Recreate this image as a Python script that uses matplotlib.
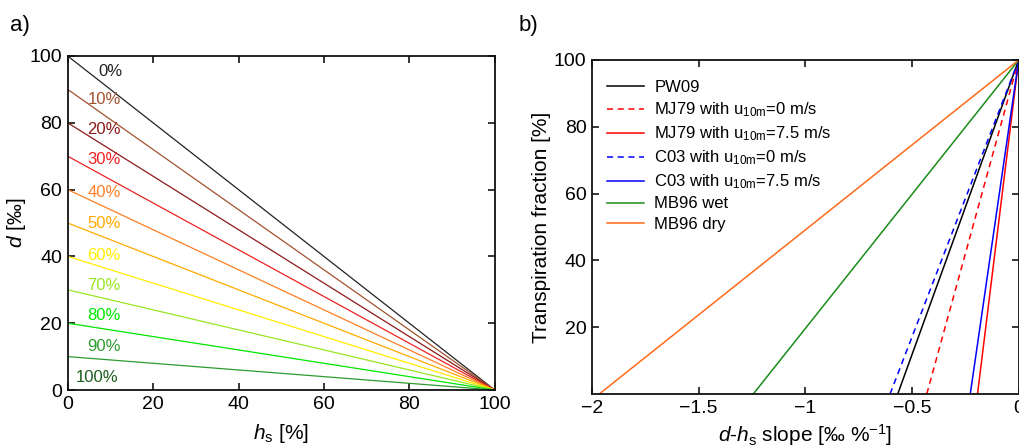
import matplotlib
matplotlib.use("Agg")
import matplotlib.pyplot as plt
import numpy as np

plt.rcParams['font.family'] = ['Liberation Sans', 'DejaVu Sans']
plt.rcParams['mathtext.fontset'] = 'custom'
plt.rcParams['mathtext.rm'] = 'Liberation Sans'
plt.rcParams['mathtext.it'] = 'Liberation Sans:italic'
plt.rcParams['mathtext.bf'] = 'Liberation Sans:bold'

# ---- Panel a data ----
hs = [0, 100]
transp_labels = ['0%', '10%', '20%', '30%', '40%', '50%', '60%', '70%', '80%', '90%', '100%']
d_intercepts = [100, 90, 80, 70, 60, 50, 40, 30, 20, 10, 0]
a_colors = ['#222222', '#a0522d', '#8b1a1a', '#ee2222', '#ff7f24', '#ffaa00',
            '#ffee00', '#99e622', '#00e600', '#2e9b2e', '#1a5c1a']

# ---- Panel b data ----
b_names = ['PW09', 'MJ79 with u$_{10\\mathrm{m}}$=0 m/s', 'MJ79 with u$_{10\\mathrm{m}}$=7.5 m/s',
           'C03 with u$_{10\\mathrm{m}}$=0 m/s', 'C03 with u$_{10\\mathrm{m}}$=7.5 m/s',
           'MB96 wet', 'MB96 dry']
b_slope_at_zero = [-0.567, -0.431, -0.193, -0.603, -0.227, -1.244, -1.966]
b_slope_at_full = [0, 0, 0, 0, 0, 0, 0]
b_fraction = [0, 100]
b_colors = ['black', '#ff0000', '#ff0000', '#0000ff', '#0000ff', '#1a8c1a', '#ff6a1a']
b_styles = ['-', '--', '-', '--', '-', '-', '-']

W, H = 1019, 448
fig = plt.figure(figsize=(W / 100, H / 100), dpi=100)

axa = fig.add_axes([67.7 / W, 58 / H, 427 / W, 334 / H])
axb = fig.add_axes([592 / W, 54 / H, 426.7 / W, 334 / H])

TICK = 14
LAB = 15

# Panel a
for d0, c in zip(d_intercepts, a_colors):
    y = [d0 * (1 - h / 100) for h in hs]
    axa.plot(hs, y, color=c, lw=0.9, solid_capstyle='butt')
# labels (positions are layout)
label_y = [95.3, 87.1, 78.0, 68.9, 59.1, 49.9, 40.4, 31.4, 22.2, 13.0, 3.7]
label_x = [7.3] + [4.6] * 9 + [2.0]
for lab, c, x, y in zip(transp_labels, a_colors, label_x, label_y):
    axa.text(x, y, lab, color=c, fontsize=12, ha='left', va='center')

axa.set_xlim(0, 100)
axa.set_ylim(0, 100)
axa.set_xticks([0, 20, 40, 60, 80, 100])
axa.set_yticks([0, 20, 40, 60, 80, 100])
axa.set_xlabel('$h_\\mathrm{s}$ [%]', fontsize=LAB, labelpad=7)
axa.set_ylabel('$d$ [‰]', fontsize=LAB, labelpad=1)

# Panel b
for x0, x1, c, ls, name in zip(b_slope_at_zero, b_slope_at_full, b_colors, b_styles, b_names):
    axb.plot([x0, x1], b_fraction, color=c, ls=ls, lw=1.1, label=name,
             dashes=(4, 3) if ls == '--' else (None, None))
axb.set_xlim(-2, 0)
axb.set_ylim(0, 100)
axb.set_xticks([-2, -1.5, -1, -0.5, 0])
axb.set_xticklabels(['\u22122', '\u22121.5', '\u22121', '\u22120.5', '0'])
axb.set_yticks([20, 40, 60, 80, 100])
axb.set_xlabel('$d$-$h_\\mathrm{s}$ slope [‰ %$^{-1}$]', fontsize=LAB, labelpad=4)
axb.set_ylabel('Transpiration fraction [%]', fontsize=LAB, labelpad=2)
leg = axb.legend(loc='upper left', frameon=False, fontsize=12, handlelength=2.2,
                 handletextpad=0.6, labelspacing=0.32, borderaxespad=0.4,
                 bbox_to_anchor=(0.005, 0.98))

for ax in (axa, axb):
    for s in ax.spines.values():
        s.set_linewidth(1.3)
        s.set_color('#111111')
    ax.tick_params(direction='in', top=True, right=True, length=5, width=1.1,
                   labelsize=TICK, pad=4)

fig.text(10 / W, 1 - 25 / H, 'a)', fontsize=16, va='center', ha='left')
fig.text(519 / W, 1 - 25 / H, 'b)', fontsize=16, va='center', ha='left')

fig.savefig('out.png', dpi=100)
